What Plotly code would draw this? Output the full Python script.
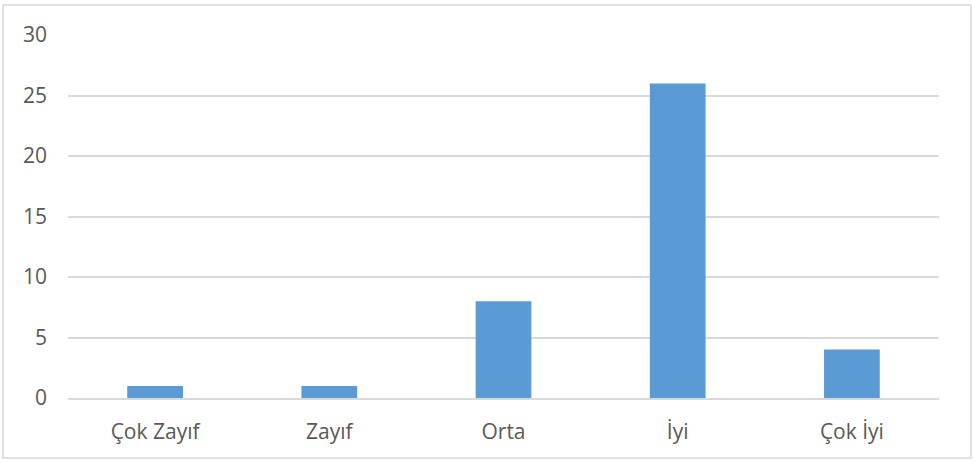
import plotly.graph_objects as go

categories = ["Çok Zayıf", "Zayıf", "Orta", "İyi", "Çok İyi"]
values = [1, 1, 8, 26, 4]
y_ticks = [0, 5, 10, 15, 20, 25, 30]

W, H = 974, 463
L, R, T, B = 68, 35, 35, 65
pw, ph = W - L - R, H - T - B


def px_x(p):
    return (p - L) / pw


def px_y(p):
    return (H - B - p) / ph


fig = go.Figure()
fig.add_trace(go.Bar(
    x=categories,
    y=values,
    marker=dict(color="#5B9BD5", line=dict(width=0)),
    width=0.32,
    hoverinfo="x+y",
))

fig.update_layout(
    width=W, height=H,
    margin=dict(l=L, r=R, t=T, b=B),
    paper_bgcolor="white",
    plot_bgcolor="white",
    showlegend=False,
    font=dict(family="Open Sans, Noto Sans, sans-serif", size=21, color="#595959"),
)
fig.update_xaxes(
    showgrid=False,
    showline=True, linecolor="#D9D9D9", linewidth=1.5,
    ticks="", ticklabelstandoff=14,
    tickfont=dict(size=21, color="#595959"),
)
fig.update_yaxes(
    range=[0, 30],
    tickvals=y_ticks,
    showgrid=True, gridcolor="#D9D9D9", gridwidth=1.5,
    zeroline=False, showline=False,
    ticks="", ticklabelstandoff=20,
    tickfont=dict(size=21, color="#595959"),
)

# chart border
fig.add_shape(
    type="rect", xref="paper", yref="paper",
    x0=px_x(3), x1=px_x(971), y0=px_y(458), y1=px_y(5),
    line=dict(color="#D9D9D9", width=1.5),
    fillcolor="rgba(0,0,0,0)",
    layer="below",
)

fig.write_html(
    "out.html",
    config={"displayModeBar": False},
    post_script="document.body.style.margin='0';",
)
